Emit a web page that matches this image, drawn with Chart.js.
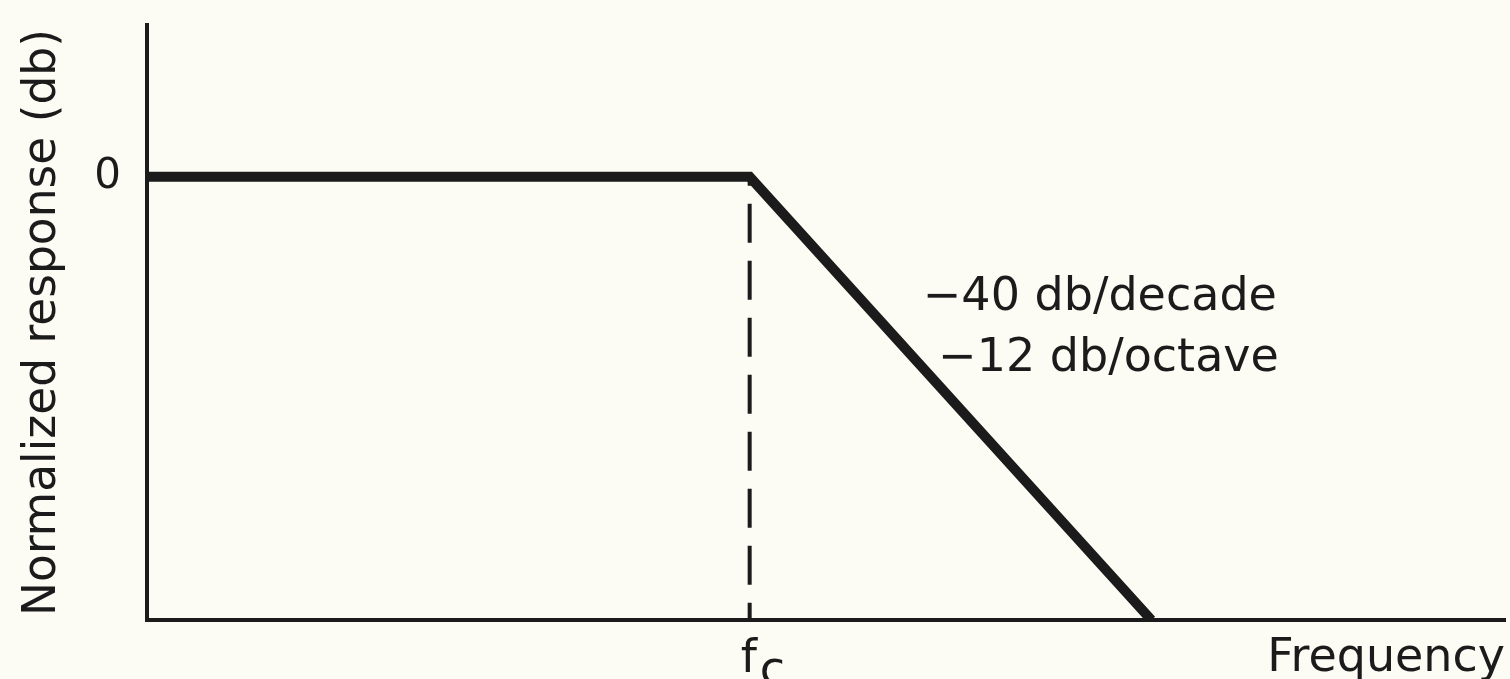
<!DOCTYPE html>
<html>
<head>
<meta charset="utf-8">
<script src="https://cdn.jsdelivr.net/npm/chart.js@4"></script>
<style>
  html, body { margin: 0; padding: 0; background: #fcfcf4; overflow: hidden; }
  canvas { display: block; }
</style>
</head>
<body>
<canvas id="c" width="1510" height="679"></canvas>
<script>
// Asymptotic magnitude response of a two-pole low-pass filter.
// x: frequency in decades relative to the corner frequency fc, y: response in dB.
const freqDecades = [-1.5, 0, 1];
const responseDb = [0, 0, -40];

// dashed marker dropped from the corner frequency
const cornerDecades = [0, 0];
const cornerDb = [0, -40];

const yTickValues = [0];
const yTickLabels = ['0'];

const slopeNotes = ['\u221240 db/decade', '\u221212 db/octave'];
const slopeNoteAt = [[0.431, -12.0], [0.469, -17.5]]; // [decades, dB]
const cornerLabel = ['f', 'c'];

const INK = '#1b1b1b';
const FONT = '"DejaVu Sans", Verdana, sans-serif';

const toPoints = (xs, ys) => xs.map((x, i) => ({ x, y: ys[i] }));

// corner-frequency label (with subscript) and the slope notes
const labelsPlugin = {
  id: 'responseLabels',
  afterDraw(chart) {
    const { ctx, scales: { x, y } } = chart;
    ctx.save();
    ctx.fillStyle = INK;
    ctx.textAlign = 'left';
    ctx.textBaseline = 'alphabetic';

    const fx = x.getPixelForValue(cornerDecades[0]);
    ctx.font = `46px ${FONT}`;
    ctx.fillText(cornerLabel[0], fx - 9, 672);
    ctx.fillText(cornerLabel[1], fx + 10, 684);

    ctx.font = `46px ${FONT}`;
    slopeNotes.forEach((t, i) => {
      const [dx, db] = slopeNoteAt[i];
      ctx.fillText(t, x.getPixelForValue(dx), y.getPixelForValue(db));
    });
    ctx.restore();
  }
};

new Chart(document.getElementById('c'), {
  type: 'line',
  data: {
    datasets: [
      {
        data: toPoints(freqDecades, responseDb),
        borderColor: INK,
        borderWidth: 10,
        borderJoinStyle: 'miter',
        borderCapStyle: 'butt',
        pointRadius: 0,
        tension: 0,
        order: 0
      },
      {
        data: toPoints(cornerDecades, cornerDb),
        borderColor: INK,
        borderWidth: 4,
        borderDash: [39, 18],
        borderDashOffset: 30,
        pointRadius: 0,
        tension: 0,
        order: 1
      }
    ]
  },
  options: {
    responsive: false,
    animation: false,
    layout: { padding: { top: 25, right: 5, left: 0, bottom: 0 } },
    plugins: { legend: { display: false }, tooltip: { enabled: false } },
    scales: {
      x: {
        type: 'linear',
        min: -1.5,
        max: 1.88,
        grid: { display: false, drawTicks: false },
        border: { display: true, color: INK, width: 4 },
        ticks: { display: false },
        title: {
          display: true,
          text: 'Frequency',
          align: 'end',
          color: INK,
          font: { family: FONT, size: 46, lineHeight: 0.87 },
          padding: 0
        },
        afterFit(s) { s.height = 59; }
      },
      y: {
        type: 'linear',
        min: -40,
        max: 13.7,
        afterBuildTicks(s) { s.ticks = yTickValues.map(v => ({ value: v })); },
        grid: { display: false, drawTicks: false },
        border: { display: true, color: INK, width: 4 },
        ticks: {
          color: INK,
          font: { family: FONT, size: 42 },
          padding: 26,
          callback: (v) => yTickLabels[yTickValues.indexOf(v)]
        },
        title: {
          display: true,
          text: 'Normalized response (db)',
          color: INK,
          font: { family: FONT, size: 45.5, lineHeight: 1.2 },
          padding: { top: 16, bottom: 0 }
        },
        afterFit(s) { s.width = 147; s.paddingTop = 0; s.paddingBottom = 0; }
      }
    }
  },
  plugins: [labelsPlugin]
});
</script>
</body>
</html>
